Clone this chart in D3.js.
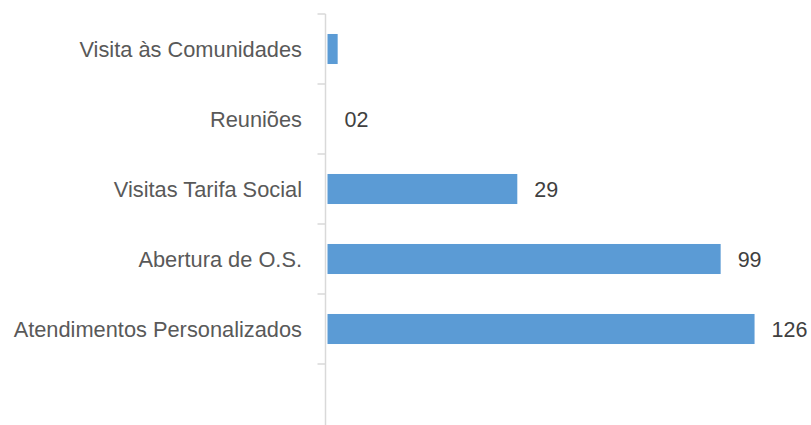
<!DOCTYPE html>
<html>
<head>
<meta charset="utf-8">
<script src="https://cdn.jsdelivr.net/npm/d3@7"></script>
<style>
  body { margin: 0; background: #fff; }
  svg { display: block; }
</style>
</head>
<body>
<svg id="chart" width="811" height="425"></svg>
<script>
// categories top to bottom (last one is an empty slot in the original)
const categories = ["Visita às Comunidades", "Reuniões", "Visitas Tarifa Social", "Abertura de O.S.", "Atendimentos Personalizados", ""];
// bar lengths as drawn in the picture
const barValues = [3, 0, 56, 116, 126, null];
// data labels as printed next to the bars
const barLabels = ["", "02", "29", "99", "126", ""];

const svg = d3.select("#chart");
const axisX = 325.5;

const y = d3.scaleBand()
    .domain(categories)
    .range([14, 434])
    .paddingInner(0.571)
    .paddingOuter(0.2855);

const x = d3.scaleLinear()
    .domain([0, 140])
    .range([327.5, 802]);

const rows = categories.map((c, i) => ({ cat: c, value: barValues[i], label: barLabels[i] }));

// bars
svg.append("g")
  .selectAll("rect")
  .data(rows.filter(d => d.value))
  .join("rect")
    .attr("x", x(0))
    .attr("y", d => y(d.cat))
    .attr("width", d => x(d.value) - x(0))
    .attr("height", y.bandwidth())
    .attr("fill", "#5b9bd5");

// axis line + ticks at band boundaries
const half = (y.step() - y.bandwidth()) / 2;
const bounds = categories.map(c => y(c) - half).concat([y(categories[categories.length - 1]) + y.bandwidth() + half]);
const axis = svg.append("g").attr("stroke", "#d9d9d9").attr("stroke-width", 1.5);
axis.append("line")
    .attr("x1", axisX).attr("x2", axisX)
    .attr("y1", bounds[0]).attr("y2", 425);
axis.selectAll(".tick")
  .data(bounds)
  .join("line")
    .attr("class", "tick")
    .attr("x1", axisX - 8).attr("x2", axisX)
    .attr("y1", d => d).attr("y2", d => d);

// category labels
svg.append("g")
  .selectAll("text")
  .data(rows)
  .join("text")
    .attr("x", 302)
    .attr("y", d => y(d.cat) + y.bandwidth() / 2)
    .attr("dy", "0.35em")
    .attr("text-anchor", "end")
    .style("font-family", "'Liberation Sans', sans-serif")
    .style("font-size", "21.8px")
    .style("fill", "#595959")
    .text(d => d.cat);

// value labels
svg.append("g")
  .selectAll("text")
  .data(rows.filter(d => d.label))
  .join("text")
    .attr("x", d => x(d.value || 0) + 17)
    .attr("y", d => y(d.cat) + y.bandwidth() / 2)
    .attr("dy", "0.35em")
    .style("font-family", "'Liberation Sans', sans-serif")
    .style("font-size", "21.5px")
    .style("fill", "#404040")
    .text(d => d.label);
</script>
</body>
</html>
